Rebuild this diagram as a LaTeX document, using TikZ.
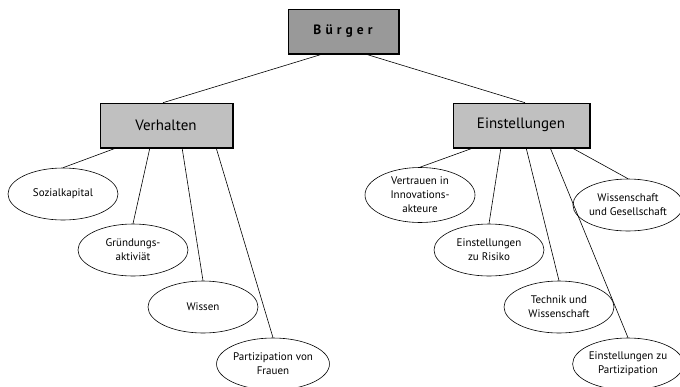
\documentclass[tikz,border=0pt]{standalone}
\usepackage{fontspec}
\setmainfont{PT Sans}
\newfontfamily\spacedfont[LetterSpace=30]{PT Sans}
\usetikzlibrary{shapes.geometric}
\definecolor{darkfill}{RGB}{153,153,153}
\definecolor{lightfill}{RGB}{192,192,192}
\tikzset{
  box/.style={draw=black, line width=0.6pt, rectangle, minimum height=44pt, inner sep=0pt,
    font=\fontsize{15}{18}\selectfont},
  oval/.style={draw=black, line width=0.6pt, ellipse, minimum width=110pt, minimum height=52pt,
    inner sep=0pt, align=center, font=\fontsize{11}{14}\selectfont},
  conn/.style={draw=black, line width=0.6pt},
}
\begin{document}
\begin{tikzpicture}[x=1pt,y=-1pt]
\useasboundingbox (0,0) rectangle (680,386);
% boxes
\node[box, fill=darkfill, minimum width=110pt, font=\fontsize{13.5}{16}\selectfont] (B) at (343,31) {\spacedfont\bfseries Bürger};
\node[box, fill=lightfill, minimum width=132pt] (V) at (166,125) {Verhalten};
\node[box, fill=lightfill, minimum width=136pt] (E) at (521,125) {Einstellungen};
% box shadows (right and bottom edges)
\foreach \n in {B,V,E}{
  \draw[line width=0.7pt] ([xshift=0.6pt,yshift=-0.6pt]\n.north east) -- ([xshift=0.6pt,yshift=-0.6pt]\n.south east) -- ([xshift=0.6pt,yshift=-0.6pt]\n.south west);
}
% ellipses left
\node[oval] (s1) at (63,194) {Sozialkapital};
\node[oval] (s2) at (133,250) {Gründungs-\\aktiviät};
\node[oval] (s3) at (203,307) {Wissen};
\node[oval] (s4) at (273,364) {Partizipation von\\Frauen};
% ellipses right
\node[oval, minimum height=55pt] (r1) at (420,195) {Vertrauen in\\Innovations-\\akteure};
\node[oval] (r2) at (489,250) {Einstellungen\\zu Risiko};
\node[oval] (r3) at (559,307) {Technik und\\Wissenschaft};
\node[oval] (r4) at (628,205) {Wissenschaft\\und Gesellschaft};
\node[oval] (r5) at (628,364) {Einstellungen zu\\Partizipation};
% connectors
\draw[conn] ([xshift=-18pt]B.south) -- ([xshift=-3pt]V.north);
\draw[conn] ([xshift=20pt]B.south) -- ([xshift=4pt]E.north);
\draw[conn] ([xshift=-48pt]V.south) -- (s1.north);
\draw[conn] ([xshift=-16pt]V.south) -- (s2.north);
\draw[conn] ([xshift=16pt]V.south) -- (s3.north);
\draw[conn] ([xshift=50pt]V.south) -- (s4.north);
\draw[conn] ([xshift=-46pt]E.south) -- (r1.north);
\draw[conn] ([xshift=-20pt]E.south) -- (r2.north);
\draw[conn] ([xshift=5pt]E.south) -- (r3.north);
\draw[conn] ([xshift=29pt]E.south) -- (r5.north);
\draw[conn] ([xshift=50pt]E.south) -- (r4.north);
\end{tikzpicture}
\end{document}
